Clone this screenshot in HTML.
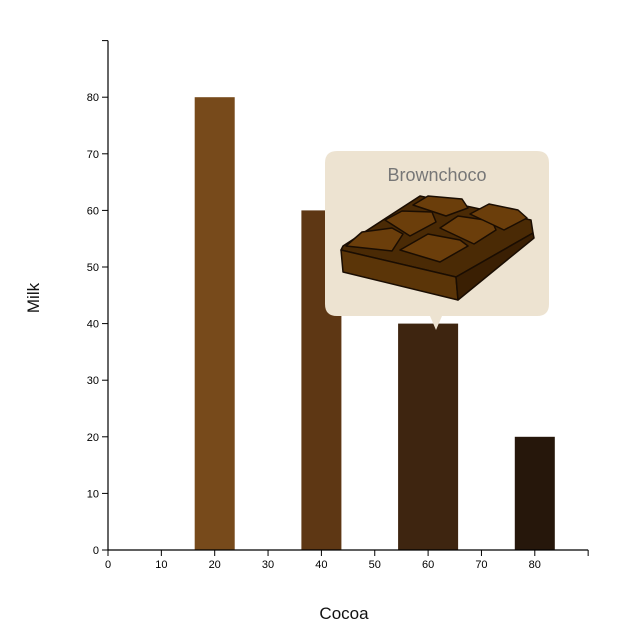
<!DOCTYPE html>
<html><head><meta charset="utf-8"><style>
body{margin:0;background:#fff;font-family:"Liberation Sans",sans-serif}
svg text{font-family:"Liberation Sans",sans-serif}
</style></head><body>
<svg id="chart" width="621" height="631" viewBox="0 0 621 631" xmlns="http://www.w3.org/2000/svg">
<g id="bars"></g>
<g id="axes"></g>
<text x="344" y="619" text-anchor="middle" font-size="17" fill="#111">Cocoa</text>
<text transform="translate(39,298) rotate(-90)" text-anchor="middle" font-size="17" fill="#111">Milk</text>
<g>
<path d="M337,151 H537 Q549,151 549,163 V304 Q549,316 537,316 H442 L436,330 L430,316 H337 Q325,316 325,304 V163 Q325,151 337,151 Z" fill="#ede3d1"/>
<text x="437" y="181" text-anchor="middle" font-size="18" fill="#777">Brownchoco</text>
<g stroke="#1a0d02" stroke-width="1.5" stroke-linejoin="round">
<path d="M341,250 L456,277 L533,233 L531,220 L420,196 L343,246 Z" fill="#4a2a05"/>
<path d="M341,250 L456,277 L458,300 L343,272 Z" fill="#5b3508"/>
<path d="M456,277 L533,233 L534,238 L458,300 Z" fill="#3a1f03"/>
<path d="M346,246 L362,232 L392,228 L403,234 L392,251 Z" fill="#6b3e0b"/>
<path d="M385,220 L402,211 L432,212 L436,222 L410,236 Z" fill="#6b3e0b"/>
<path d="M413,205 L428,196 L462,199 L468,208 L446,216 Z" fill="#6b3e0b"/>
<path d="M400,250 L428,234 L460,240 L468,246 L440,262 Z" fill="#6b3e0b"/>
<path d="M440,228 L458,216 L492,221 L496,230 L474,244 Z" fill="#6b3e0b"/>
<path d="M470,214 L489,204 L518,210 L527,218 L504,230 Z" fill="#6b3e0b"/>
</g>
</g>
</svg>
<script>
const cocoa=[20,40,60,80];
const milk=[80,60,40,20];
const widthUnits=[7.5,7.5,11.25,7.5];
const colors=["#774a1b","#5e3714","#3e2510","#26170b"];
const xTicks=[0,10,20,30,40,50,60,70,80];
const yTicks=[0,10,20,30,40,50,60,70,80];
const NS="http://www.w3.org/2000/svg";
const x0=108,xPer=5.335,y0=550,yPer=5.66;
const xs=v=>x0+v*xPer, ys=v=>y0-v*yPer;
const bars=document.getElementById('bars'),axes=document.getElementById('axes');
function mk(t,a,p){const e=document.createElementNS(NS,t);for(const k in a)e.setAttribute(k,a[k]);p.appendChild(e);return e;}
cocoa.forEach((c,i)=>{
 const w=widthUnits[i]*xPer;
 const r=mk('rect',{x:xs(c)-w/2,y:ys(milk[i]),width:w,height:y0-ys(milk[i]),fill:colors[i]},bars);
 
 
});
const xl=mk('line',{x1:x0,y1:y0,x2:xs(90),y2:y0,stroke:'#000','stroke-width':1.2},axes);


mk('line',{x1:xs(90),y1:y0,x2:xs(90),y2:y0+6,stroke:'#000'},axes);
const yl=mk('line',{x1:x0,y1:ys(90),x2:x0,y2:y0,stroke:'#000','stroke-width':1.2},axes);


mk('line',{x1:x0-6,y1:ys(90),x2:x0,y2:ys(90),stroke:'#000'},axes);
xTicks.forEach(v=>{
 mk('line',{x1:xs(v),y1:y0,x2:xs(v),y2:y0+6,stroke:'#000'},axes);
 const t=mk('text',{x:xs(v),y:y0+18,'text-anchor':'middle','font-size':11,fill:'#000'},axes);
 t.textContent=v;
 
 
});
yTicks.forEach(v=>{
 mk('line',{x1:x0-6,y1:ys(v),x2:x0,y2:ys(v),stroke:'#000'},axes);
 const t=mk('text',{x:x0-9,y:ys(v)+4,'text-anchor':'end','font-size':11,fill:'#000'},axes);
 t.textContent=v;
 
 
});
</script>
</body></html>
